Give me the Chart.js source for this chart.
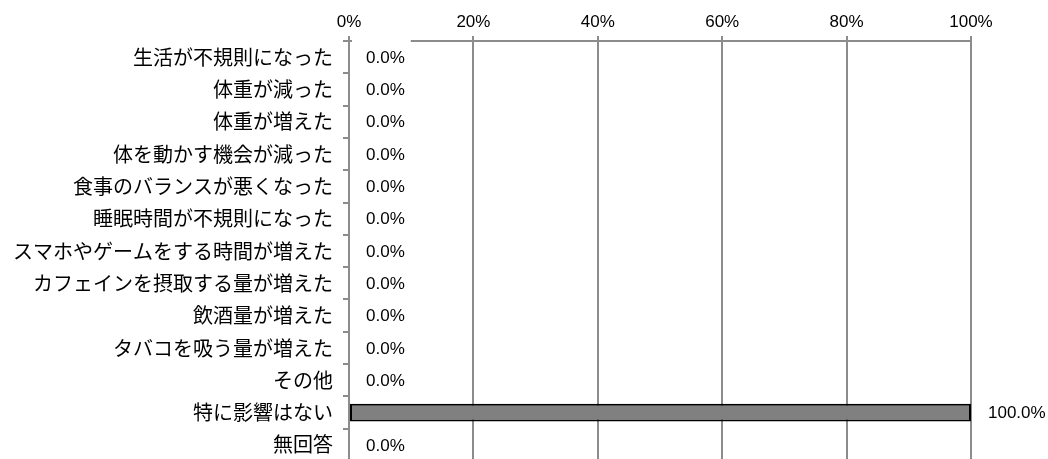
<!DOCTYPE html>
<html>
<head>
<meta charset="utf-8">
<script src="https://cdn.jsdelivr.net/npm/chart.js@4"></script>
<style>
  html, body { margin: 0; padding: 0; background: #fff; overflow: hidden; }
  #wrap { position: absolute; left: 0; top: 0; width: 1048px; height: 483px; }
</style>
</head>
<body>
<div id="wrap"><canvas id="bar-chart"></canvas></div>
<script>
// categories and values (percent)
var categories = [
    "生活が不規則になった",
    "体重が減った",
    "体重が増えた",
    "体を動かす機会が減った",
    "食事のバランスが悪くなった",
    "睡眠時間が不規則になった",
    "スマホやゲームをする時間が増えた",
    "カフェインを摂取する量が増えた",
    "飲酒量が増えた",
    "タバコを吸う量が増えた",
    "その他",
    "特に影響はない",
    "無回答"
];
var values = [0, 0, 0, 0, 0, 0, 0, 0, 0, 0, 0, 100, 0];
var xTicks = [0, 20, 40, 60, 80, 100];

var gridGray = "#8c8c8c";
var numFont = { family: "'Liberation Sans', Arial, sans-serif", size: 17 };

// value labels with a white box behind them (like the original)
var valueLabels = {
    id: "valueLabels",
    afterDraw: function(chart) {
        var ctx = chart.ctx;
        var meta = chart.getDatasetMeta(0);
        ctx.save();
        ctx.font = numFont.size + "px " + numFont.family;
        ctx.textBaseline = "middle";
        ctx.textAlign = "left";
        meta.data.forEach(function(bar, i) {
            var txt = values[i].toFixed(1) + "%";
            var x = bar.x + 17;
            var w = ctx.measureText(txt).width;
            ctx.fillStyle = "#fff";
            ctx.fillRect(x - 14, bar.y - 19, w + 20, 36);
            ctx.fillStyle = "#000";
            ctx.fillText(txt, x, bar.y + 1);
        });
        ctx.restore();
    }
};

var bar_ctx = document.getElementById("bar-chart").getContext("2d");
window.myBar = new Chart(bar_ctx, {
    type: "bar",
    data: {
        labels: categories,
        datasets: [{
            data: values,
            backgroundColor: "#808080",
            borderColor: "#000",
            borderWidth: 2,
            borderSkipped: false,
            barPercentage: 0.55,
            categoryPercentage: 1
        }]
    },
    options: {
        indexAxis: "y",
        responsive: true,
        maintainAspectRatio: false,
        animation: false,
        layout: { padding: { left: 0, right: 77, top: 0, bottom: 1 } },
        plugins: {
            legend: { display: false },
            tooltip: { enabled: false }
        },
        scales: {
            x: {
                position: "top",
                min: 0,
                max: 100,
                afterBuildTicks: function(scale) {
                    scale.ticks = xTicks.map(function(v) { return { value: v }; });
                },
                afterFit: function(scale) { scale.height = 41; },
                ticks: {
                    color: "#000",
                    font: numFont,
                    padding: 3,
                    maxRotation: 0,
                    callback: function(v) { return v + "%"; }
                },
                grid: {
                    color: gridGray,
                    lineWidth: 2,
                    tickLength: 5
                },
                border: { color: gridGray, width: 2 }
            },
            y: {
                afterFit: function(scale) { scale.width = 349; },
                ticks: {
                    color: "#000",
                    font: { family: "'Noto Sans CJK JP', sans-serif", size: 20 },
                    padding: 10,
                    autoSkip: false
                },
                grid: {
                    offset: true,
                    drawOnChartArea: false,
                    color: gridGray,
                    lineWidth: 2,
                    tickLength: 6
                },
                border: { color: gridGray, width: 2 }
            }
        }
    },
    plugins: [valueLabels]
});
</script>
</body>
</html>
